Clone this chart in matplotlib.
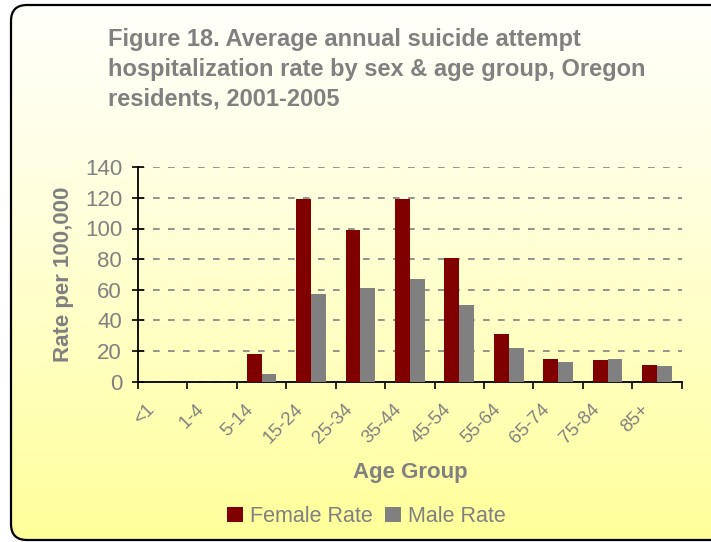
import numpy as np
import matplotlib.pyplot as plt
import matplotlib.transforms as mtransforms
from matplotlib.patches import FancyBboxPatch

plt.rcParams['font.family'] = ['Liberation Sans', 'DejaVu Sans']

# data
age_groups = ['<1', '1-4', '5-14', '15-24', '25-34', '35-44', '45-54',
              '55-64', '65-74', '75-84', '85+']
female_rate = [0, 0, 18, 119, 99, 119, 81, 31, 15, 14, 10.5]
male_rate = [0, 0, 5, 57, 61, 67, 50, 22, 12.5, 14.5, 10]

gray = '#808080'
maroon = '#800000'

fig = plt.figure(figsize=(7.11, 5.42), dpi=100)
fig.patch.set_facecolor('white')

# background: rounded box with white-to-yellow gradient
bg = fig.add_axes([0, 0, 1, 1], zorder=-1)
bg.set_xlim(0, 711)
bg.set_ylim(542, 0)
bg.axis('off')
box = FancyBboxPatch((11, 5), 730, 535, boxstyle='round,pad=0,rounding_size=16',
                     facecolor='none', edgecolor='black', linewidth=1.6, zorder=3)
bg.add_patch(box)
grad = np.linspace(0, 1, 256).reshape(-1, 1)
top = np.array([1.0, 1.0, 0.98])
bottom = np.array([1.0, 1.0, 0.60])
img = top + (bottom - top) * grad[..., None] ** 1.2
im = bg.imshow(img, extent=(11, 741, 540, 5), aspect='auto', zorder=1)
im.set_clip_path(box)

# titel
fig.text(108 / 711, 1 - 28 / 542,
         'Figure 18. Average annual suicide attempt\n'
         'hospitalization rate by sex & age group, Oregon\n'
         'residents, 2001-2005',
         fontsize=17, fontweight='bold', color=gray, ha='left', va='top',
         linespacing=1.38, transform=fig.transFigure)

ax = fig.add_axes([138 / 711, 1 - 381.5 / 542, (681.7 - 138) / 711, (381.5 - 167.3) / 542])
ax.patch.set_alpha(0)

x = np.arange(len(age_groups))
w = 0.3
ax.bar(x - w / 2, female_rate, w, color=maroon, label='Female Rate', zorder=3)
ax.bar(x + w / 2, male_rate, w, color=gray, label='Male Rate', zorder=3)

ax.set_xlim(-0.5, len(age_groups) - 0.5)
ax.set_ylim(0, 140)
ax.set_yticks(np.arange(0, 141, 20))
ax.yaxis.grid(True, linestyle=(0, (4, 5)), color=gray, linewidth=1.2, zorder=0)
ax.tick_params(axis='y', labelsize=16, labelcolor=gray, direction='inout', length=9,
               width=1.2, pad=7)

# ticks on category borders, labels on centres
ax.set_xticks(np.arange(-0.5, len(age_groups), 1))
ax.set_xticklabels([])
ax.set_xticks(x, minor=True)
ax.set_xticklabels(age_groups, minor=True, rotation=45, ha='right', va='top',
                   rotation_mode='anchor', fontsize=13.5, color=gray)
ax.tick_params(axis='x', which='major', direction='out', length=5, width=1.2)
ax.tick_params(axis='x', which='minor', length=0, pad=14)
shift = mtransforms.ScaledTranslation(-0.17, 0, fig.dpi_scale_trans)
for lab in ax.get_xticklabels(minor=True):
    lab.set_transform(lab.get_transform() + shift)

for s in ['top', 'right']:
    ax.spines[s].set_visible(False)
for s in ['left', 'bottom']:
    ax.spines[s].set_linewidth(1.3)

ax.set_xlabel('Age Group', fontsize=16, fontweight='bold', color=gray, labelpad=11)
ax.set_ylabel('Rate per 100,000', fontsize=16, fontweight='bold', color=gray, labelpad=8)

leg = ax.legend(loc='center', bbox_to_anchor=(0.42, -0.63), ncol=2, frameon=False,
                fontsize=15.5, handlelength=0.75, handleheight=0.75, handletextpad=0.3,
                columnspacing=0.6)
for t in leg.get_texts():
    t.set_color(gray)

plt.savefig('out.png', dpi=100)
